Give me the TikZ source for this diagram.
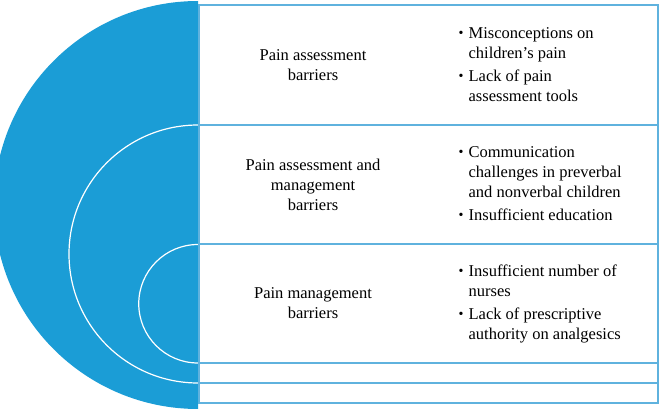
\documentclass[tikz,border=0pt]{standalone}
\usepackage{fontspec}
\setmainfont{Liberation Serif}
\definecolor{discblue}{RGB}{27,157,214}
\definecolor{lineblue}{RGB}{95,178,222}
\tikzset{
  rowline/.style={draw=lineblue, line width=1.5pt},
  arcline/.style={draw=white, line width=1.2pt},
  headtext/.style={align=center, font=\fontsize{16.5}{20}\selectfont, inner sep=0pt},
  listtext/.style={anchor=west, align=left, font=\fontsize{16.5}{20}\selectfont, inner sep=0pt},
}
\newcommand{\bul}{{\fontsize{14}{14}\selectfont\raisebox{0.6pt}{\textbullet}}}
\begin{document}
\begin{tikzpicture}[x=1pt,y=1pt]
\useasboundingbox (0,0) rectangle (662,-409);
% big half disc
\fill[discblue] (198,-1) arc[start angle=90, end angle=270, radius=204] -- cycle;
% white arcs
\draw[arcline] (198,-125) arc[start angle=90, end angle=270, radius=129];
\draw[arcline] (198,-244.5) arc[start angle=90, end angle=270, radius=59.25];
% table lines
\draw[rowline] (198.8,-5) -- (198.8,-403);
\draw[rowline] (658,-5) -- (658,-403);
\foreach \yy in {5,125,244,363,383,403}{
  \draw[rowline] (198,-\yy) -- (658.75,-\yy);
}
% left column texts
\node[headtext] (h1) at (313,-65) {Pain assessment\\barriers};
\node[headtext] (h2) at (313,-184.5) {Pain assessment and\\management\\barriers};
\node[headtext] (h3) at (313,-303.5) {Pain management\\barriers};
% right column texts
\node[listtext] (l1) at (458.5,-66) {\begin{tabular}{@{}l@{\hspace{5pt}}l@{}}
\bul & Misconceptions on\\
 & children’s pain\\[3pt]
\bul & Lack of pain\\
 & assessment tools
\end{tabular}};
\node[listtext] (l2) at (458.5,-185) {\begin{tabular}{@{}l@{\hspace{5pt}}l@{}}
\bul & Communication\\
 & challenges in preverbal\\
 & and nonverbal children\\[3pt]
\bul & Insufficient education
\end{tabular}};
\node[listtext] (l3) at (458.5,-304) {\begin{tabular}{@{}l@{\hspace{5pt}}l@{}}
\bul & Insufficient number of\\
 & nurses\\[3pt]
\bul & Lack of prescriptive\\
 & authority on analgesics
\end{tabular}};
\end{tikzpicture}
\end{document}
